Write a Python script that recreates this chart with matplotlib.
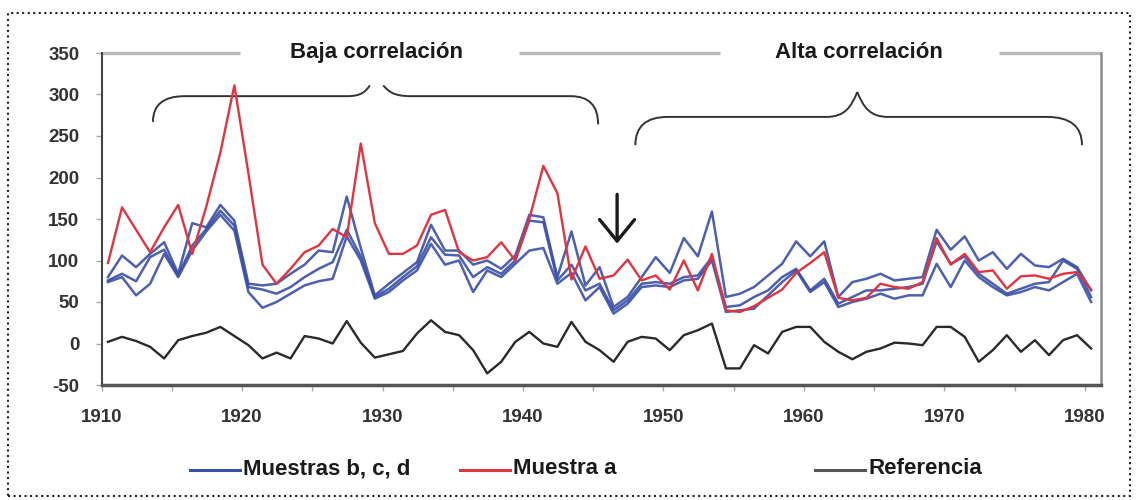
import numpy as np
import matplotlib
matplotlib.use("Agg")
import matplotlib.pyplot as plt
import matplotlib.patches as mpatches
import matplotlib.transforms as mtransforms
from matplotlib.path import Path
from matplotlib.lines import Line2D

# years 1910..1980, one value per year
years = np.arange(1910, 1981)

muestra_a = [97, 164, 137, 110, 140, 167, 108, 165, 230, 311,
             205, 95, 72, 90, 110, 118, 138, 128, 241, 145,
             108, 108, 118, 155, 161, 110, 100, 104, 122, 100,
             150, 214, 181, 77, 117, 78, 82, 101, 76, 82,
             65, 100, 64, 108, 40, 38, 45, 55, 65, 85,
             97, 110, 55, 52, 55, 72, 68, 66, 74, 127,
             95, 108, 86, 88, 66, 81, 82, 78, 84, 86, 65]

muestra_b = [80, 106, 92, 108, 122, 84, 145, 140, 167, 148,
             72, 70, 72, 84, 95, 112, 110, 177, 115, 58,
             72, 85, 98, 143, 112, 112, 95, 100, 90, 106,
             155, 152, 80, 135, 70, 92, 44, 56, 80, 104,
             85, 127, 105, 159, 56, 60, 68, 82, 96, 123,
             105, 123, 56, 74, 78, 84, 76, 78, 80, 137,
             113, 129, 100, 110, 90, 108, 94, 92, 102, 92, 64]

muestra_c = [76, 84, 75, 104, 113, 82, 118, 138, 160, 142,
             68, 65, 60, 68, 80, 90, 98, 137, 105, 56,
             66, 80, 93, 128, 107, 106, 80, 92, 84, 100,
             148, 146, 76, 95, 64, 72, 40, 52, 72, 74,
             72, 80, 82, 104, 44, 46, 56, 64, 80, 90,
             64, 78, 48, 56, 64, 64, 66, 68, 72, 123,
             96, 105, 84, 72, 60, 66, 72, 74, 100, 90, 56]

muestra_d = [74, 80, 58, 72, 108, 80, 112, 135, 155, 136,
             62, 43, 50, 60, 70, 75, 78, 129, 100, 54,
             62, 76, 88, 120, 95, 100, 62, 88, 80, 96,
             112, 115, 72, 85, 52, 68, 36, 48, 68, 70,
             68, 76, 78, 100, 38, 40, 42, 58, 74, 88,
             62, 74, 44, 50, 54, 60, 54, 58, 58, 96,
             68, 100, 80, 68, 58, 62, 68, 64, 74, 84, 50]

referencia = [2, 8, 3, -4, -18, 4, 9, 13, 20, 9,
              -2, -18, -11, -18, 9, 6, 0, 27, 1, -17,
              -13, -9, 12, 28, 14, 10, -8, -36, -22, 2,
              14, 0, -4, 26, 2, -8, -22, 2, 8, 6,
              -8, 10, 16, 24, -30, -30, -2, -12, 14, 20,
              20, 2, -10, -19, -10, -6, 1, 0, -2, 20,
              20, 8, -22, -8, 10, -10, 4, -14, 4, 10, -6]

y_ticks = [-50, 0, 50, 100, 150, 200, 250, 300, 350]
x_labels = [1910, 1920, 1930, 1940, 1950, 1960, 1970, 1980]

BLUE = '#3a4fa6'
RED = '#e03440'
BLACK = '#2a2a2a'

plt.rcParams['font.family'] = ['Liberation Sans', 'DejaVu Sans']

fig = plt.figure(figsize=(11.37, 5.0), dpi=100)
ax = fig.add_axes([0.0894, 0.23, 0.8789, 0.664])

# points sit a little right of the year ticks, as in the original
xs = years + 0.45
for s in [muestra_b, muestra_c, muestra_d]:
    ax.plot(xs, s, color=BLUE, lw=1.8, alpha=0.9)
ax.plot(xs, muestra_a, color=RED, lw=1.7)
ax.plot(xs, referencia, color=BLACK, lw=1.7)

ax.set_xlim(1910, 1981.15)
ax.set_ylim(-50, 350)

ax.set_yticks(y_ticks)
ax.set_yticklabels([str(v) for v in y_ticks], fontweight='bold', color='#333333',
                   fontsize=13.5)
minor_years = np.arange(1910, 1981, 5)
ax.set_xticks(minor_years)
ax.set_xticklabels([str(y) if y in x_labels else '' for y in minor_years],
                   fontweight='bold', color='#333333', fontsize=13.5)
offset = mtransforms.ScaledTranslation(0.09, 0, fig.dpi_scale_trans)
for lab in ax.get_xticklabels():
    lab.set_transform(lab.get_transform() + offset)
ax.tick_params(axis='y', length=4, width=1, color='#aaaaaa', pad=12)
ax.tick_params(axis='x', length=4, width=1, color='#aaaaaa', pad=13)

ax.spines['top'].set_visible(False)
ax.spines['left'].set_color('#444444')
ax.spines['left'].set_linewidth(1.5)
ax.spines['bottom'].set_color('#555555')
ax.spines['bottom'].set_linewidth(2.5)
ax.spines['right'].set_color('#8a8a8a')
ax.spines['right'].set_linewidth(1.8)

# gray top line, broken where the labels sit
for x0, x1 in [(1910, 1919.85), (1939.7, 1954.0), (1973.9, 1981.15)]:
    ax.plot([x0, x1], [350, 350], color='#b8b8b8', lw=2.4, clip_on=False,
            solid_capstyle='butt')

ax.text(1929.6, 351, 'Baja correlación', ha='center', va='center',
        fontsize=16, fontweight='bold', color='#1a1a1a')
ax.text(1963.9, 351, 'Alta correlación', ha='center', va='center',
        fontsize=16, fontweight='bold', color='#1a1a1a')


def brace_half(x_tip, y_tip, x_h0, x_h1, x_pk, y_pk, yh):
    # tip -> curve to horizontal -> horizontal -> S-curve to peak
    dx = x_pk - x_h1
    verts = [(x_tip, y_tip), (x_tip, yh), (x_h0, yh),
             (x_h1, yh),
             (x_h1 + 0.6 * dx, yh), (x_pk - 0.2 * dx, yh + 0.4 * (y_pk - yh)), (x_pk, y_pk)]
    codes = [Path.MOVETO, Path.CURVE3, Path.CURVE3,
             Path.LINETO,
             Path.CURVE4, Path.CURVE4, Path.CURVE4]
    ax.add_patch(mpatches.PathPatch(Path(verts, codes), fill=False,
                                    edgecolor='#333333', lw=1.4, clip_on=False))


# left brace (two halves with a small gap at the middle)
brace_half(1913.65, 267, 1915.9, 1927.5, 1929.1, 311, 298)
brace_half(1945.35, 264, 1943.4, 1932.0, 1930.05, 311, 298)
# right brace
brace_half(1948.0, 239, 1950.3, 1961.6, 1963.8, 303, 273)
brace_half(1979.8, 239, 1977.3, 1966.0, 1963.8, 303, 273)

# arrow pointing at the change of regime
ax.annotate('', xy=(1946.7, 117), xytext=(1946.7, 183),
            arrowprops=dict(arrowstyle='->, head_length=0.55, head_width=0.45',
                            color='#1a1a1a', lw=2.4, mutation_scale=28))

# legend drawn by hand to match the spacing
leg = [(190, 240, BLUE, 'Muestras b, c, d'),
       (460, 510, RED, 'Muestra a'),
       (815, 865, '#555555', 'Referencia')]
W, H = 1137.0, 500.0
for x0, x1, c, t in leg:
    fig.add_artist(Line2D([x0 / W, x1 / W], [1 - 470 / H, 1 - 470 / H], color=c, lw=2.2,
                          transform=fig.transFigure))
    fig.text((x1 + 3) / W, 1 - 469 / H, t, ha='left', va='center', fontsize=16,
             fontweight='bold', color='#1a1a1a')

# dotted frame around the whole figure
fig.add_artist(mpatches.Rectangle((8 / W, 1 - 496 / H), 1122 / W, 483 / H,
                                  transform=fig.transFigure, fill=False,
                                  edgecolor='#222222', lw=1.5, linestyle=':'))

fig.savefig('out.png', dpi=100)
